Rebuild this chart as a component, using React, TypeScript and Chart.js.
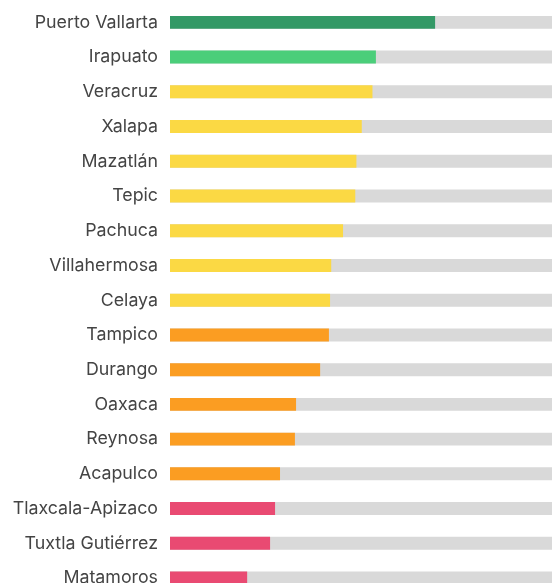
import React, { useEffect, useRef } from "react";
import { Chart, registerables } from "chart.js";

Chart.register(...registerables);

const cities = [
  "Puerto Vallarta",
  "Irapuato",
  "Veracruz",
  "Xalapa",
  "Mazatlán",
  "Tepic",
  "Pachuca",
  "Villahermosa",
  "Celaya",
  "Tampico",
  "Durango",
  "Oaxaca",
  "Reynosa",
  "Acapulco",
  "Tlaxcala-Apizaco",
  "Tuxtla Gutiérrez",
  "Matamoros",
];

const scores = [69.4, 53.9, 53.0, 50.2, 48.8, 48.5, 45.3, 42.2, 41.9, 41.6, 39.3, 33.0, 32.7, 28.8, 27.5, 26.2, 20.2];

const levels = [
  "top",
  "high",
  "mid",
  "mid",
  "mid",
  "mid",
  "mid",
  "mid",
  "mid",
  "low",
  "low",
  "low",
  "low",
  "low",
  "bottom",
  "bottom",
  "bottom",
];

const levelColors: Record<string, string> = {
  top: "#339966",
  high: "#4bce7a",
  mid: "#fbd944",
  low: "#fb9d22",
  bottom: "#e94a72",
};

const maxScore = 100;
const track = cities.map(() => maxScore);

export default function App() {
  const ref = useRef<HTMLCanvasElement | null>(null);

  useEffect(() => {
    if (!ref.current) return;
    const chart = new Chart(ref.current, {
      type: "bar",
      data: {
        labels: cities,
        datasets: [
          {
            data: scores,
            backgroundColor: levels.map((l) => levelColors[l]),
            order: 0,
            barPercentage: 0.373,
            categoryPercentage: 1,
          },
          {
            data: track,
            backgroundColor: "#d9d9d9",
            order: 1,
            barPercentage: 0.373,
            categoryPercentage: 1,
          },
        ],
      },
      options: {
        indexAxis: "y",
        animation: false,
        responsive: false,
        maintainAspectRatio: false,
        layout: { padding: { top: 5, bottom: 4.6, left: 0, right: 0 } },
        plugins: { legend: { display: false }, tooltip: { enabled: false } },
        scales: {
          x: {
            display: false,
            min: 0,
            max: maxScore,
          },
          y: {
            stacked: true,
            grid: { display: false, drawTicks: false },
            border: { display: false },
            ticks: {
              padding: 12,
              color: "#444444",
              font: { family: "Inter", size: 17.8 },
            },
            afterFit: (scale: any) => {
              scale.width = 170;
              scale.paddingTop = 0;
              scale.paddingBottom = 0;
            },
          },
        },
      },
    });
    return () => chart.destroy();
  }, []);

  return (
    <div style={{ position: "fixed", left: 0, top: 0, width: 552, height: 583, overflow: "hidden", background: "#fff" }}>
      <canvas ref={ref} width={552} height={600} style={{ display: "block" }} />
    </div>
  );
}
